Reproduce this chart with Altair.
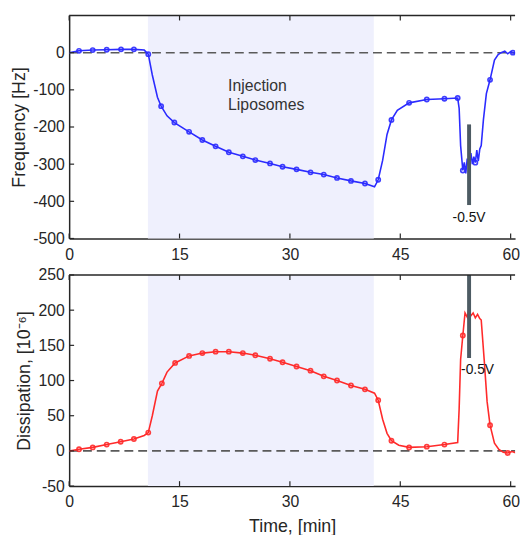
import altair as alt
import pandas as pd

# ---------------- data ----------------
freq_t = [0, 1.34, 3.2, 5.1, 7.05, 8.8, 10.2, 10.75, 11.3, 12.0, 12.5, 13.3, 14.3, 16.3, 18.1,
          19.9, 21.7, 23.6, 25.3, 27.3, 29.0, 30.9, 32.8, 34.6, 36.4, 38.3, 40.2, 41.5, 42.0,
          42.6, 43.2, 43.8, 44.6, 46.2, 48.6, 51.0, 52.8, 53.0, 53.2, 53.5, 53.7, 53.9, 54.1,
          54.3, 54.6, 54.8, 55.0, 55.2, 55.4, 55.6, 55.8, 56.0, 56.3, 56.7, 57.2, 57.8, 58.3,
          58.7, 59.2, 59.6, 60.0, 60.3, 60.8, 61.5]
freq_v = [0, 5, 7, 8, 9, 9, 7, -4, -60, -120, -144, -170, -188, -213, -235,
          -252, -268, -279, -289, -298, -307, -314, -322, -328, -337, -345, -352, -361, -342,
          -290, -220, -181, -155, -135, -126, -124, -122, -150, -250, -317, -295, -325, -285,
          -305, -270, -300, -280, -296, -262, -292, -260, -250, -180, -110, -73, -20, -5,
          0, 4, -3, 3, 0, -2, 2]
freq_mk_t = [1.34, 3.2, 5.1, 7.05, 8.8, 10.75, 12.5, 14.3, 16.3, 18.1, 19.9, 21.7, 23.6, 25.3,
             27.3, 29.0, 30.9, 32.8, 34.6, 36.4, 38.3, 40.2, 42.0, 43.8, 46.2, 48.6, 51.0,
             52.8, 53.5, 55.2, 57.2, 60.3]
freq_mk_v = [5, 7, 8, 9, 9, -4, -144, -188, -213, -235, -252, -268, -279, -289,
             -298, -307, -314, -322, -328, -337, -345, -352, -342, -181, -135, -126, -124,
             -122, -317, -296, -73, 0]

diss_t = [0, 1.34, 3.2, 5.1, 7.0, 8.8, 10.2, 10.75, 11.3, 12.0, 12.6, 13.3, 14.4, 16.3, 18.1,
          19.9, 21.7, 23.6, 25.3, 27.3, 29.0, 30.9, 32.8, 34.6, 36.4, 38.3, 40.2, 41.5, 42.0,
          42.6, 43.2, 43.8, 44.8, 46.2, 48.6, 51.0, 52.8, 53.0, 53.2, 53.5, 53.8, 54.1, 54.3,
          54.6, 54.9, 55.2, 55.5, 55.8, 56.0, 56.4, 56.8, 57.2, 57.8, 58.4, 59.0, 59.6, 60.2,
          60.8, 61.5]
diss_v = [0, 2.4, 5, 9, 13, 17, 22, 26, 50, 85, 96, 112, 125, 135, 139,
          141, 141, 139, 136, 131, 126, 120, 114, 106, 100, 93, 87.5, 82, 72,
          45, 25, 14.5, 8, 5, 6, 9, 12, 60, 130, 164, 196, 190, 200,
          192, 196, 189, 194, 188, 186, 130, 70, 36.5, 11, 2, -2, -3, -1,
          -3, -1]
diss_mk_t = [1.34, 3.2, 5.1, 7.0, 8.8, 10.75, 12.6, 14.4, 16.3, 18.1, 19.9, 21.7, 23.6, 25.3,
             27.3, 29.0, 30.9, 32.8, 34.6, 36.4, 38.3, 40.2, 42.0, 43.8, 46.2, 48.6, 51.0,
             53.5, 57.2, 59.6]
diss_mk_v = [2.4, 5, 9, 13, 17, 26, 96, 125, 135, 139, 141, 141, 139, 136,
             131, 126, 120, 114, 106, 100, 93, 87.5, 72, 14.5, 5, 6, 9,
             164, 36.5, -3]

inj_start, inj_end = 10.7, 41.4
pulse_t = 54.35
freq_pulse = [-193, -410]
diss_pulse = [250, 132]
pulse_label = "-0.5V"
freq_pulse_label = (54.35, -445)
diss_pulse_label = (55.5, 115)
inj_lines = ["Injection", "Liposomes"]
inj_pos = (21.6, [-91, -142])

x_ticks = [0, 15, 30, 45, 60]
freq_ticks = [-500, -400, -300, -200, -100, 0]
diss_ticks = [-50, 0, 50, 100, 150, 200, 250]
x_dom = [0, 60.6]
freq_dom = [-500, 100]
diss_dom = [-50, 250]

W = 452
H1 = 226
H2 = 214
INK = "#262626"
FONT = "Liberation Sans"


def make_axes(yticks, ytitle, bottom):
    xaxis = alt.Axis(values=x_ticks, ticks=False, labelPadding=8, labelFontSize=16,
                     labelColor=INK, labelFont=FONT, domainColor=INK, domainWidth=1.5,
                     grid=False, title="Time, [min]" if bottom else None,
                     titleFontSize=18, titleFont=FONT, titleFontWeight="normal",
                     titleColor=INK, titlePadding=8, labelFlush=False, labelOverlap=False)
    yaxis = alt.Axis(values=yticks, ticks=False, labelPadding=5, labelFontSize=16,
                     labelColor=INK, labelFont=FONT, domainColor=INK, domainWidth=1.5,
                     grid=False, title=ytitle, titleFontSize=18, titleFont=FONT,
                     titleFontWeight="normal", titleColor=INK, titlePadding=4,
                     labelExpr="'' + datum.value", labelFlush=False, labelOverlap=False)
    return xaxis, yaxis


def panel(t, v, mk_t, mk_v, color, ydom, yticks, ytitle, pulse_y, lbl, H, bottom):
    line_df = pd.DataFrame({"t": t, "v": v})
    mk_df = pd.DataFrame({"t": mk_t, "v": mk_v})
    xs = alt.Scale(domain=x_dom, nice=False, zero=False)
    ys = alt.Scale(domain=ydom, nice=False, zero=False)
    xaxis, yaxis = make_axes(yticks, ytitle, bottom)

    def X(f):
        return alt.X(f, scale=xs, axis=xaxis)

    def Y(f):
        return alt.Y(f, scale=ys, axis=yaxis)

    shade = alt.Chart(pd.DataFrame({"a": [inj_start], "b": [inj_end]})).mark_rect(
        color="#eff0fd").encode(
        x=X("a:Q"), x2="b:Q",
        y=alt.value(0), y2=alt.value(H))
    zero = alt.Chart(pd.DataFrame({"z": [0]})).mark_rule(
        color="#5a5a5a", strokeDash=[9, 5], strokeWidth=1.6).encode(
        y=Y("z:Q"), x=alt.value(0), x2=alt.value(W))
    ln = alt.Chart(line_df).mark_line(color=color, strokeWidth=1.6, clip=True).encode(
        x=X("t:Q"), y=Y("v:Q"))
    mk = alt.Chart(mk_df).mark_point(color=color, filled=False, size=18, strokeWidth=1.7,
                                     opacity=0.9, clip=True).encode(
        x=X("t:Q"), y=Y("v:Q"))
    bar = alt.Chart(pd.DataFrame({"t": [pulse_t], "a": [pulse_y[0]], "b": [pulse_y[1]]})).mark_rule(
        color="#4d5b63", strokeWidth=4).encode(
        x=X("t:Q"), y=Y("a:Q"), y2="b:Q")
    bl = alt.Chart(pd.DataFrame({"t": [lbl[0]], "v": [lbl[1]], "s": [pulse_label]})).mark_text(
        fontSize=14, font=FONT, color="#111111", align="center", baseline="middle").encode(
        x=X("t:Q"), y=Y("v:Q"), text="s:N")
    ytk = alt.Chart(pd.DataFrame({"v": yticks})).mark_rule(color=INK, strokeWidth=1.2).encode(
        y=Y("v:Q"), x=alt.value(0), x2=alt.value(5))
    xtk_b = alt.Chart(pd.DataFrame({"t": x_ticks})).mark_rule(color=INK, strokeWidth=1.2).encode(
        x=X("t:Q"), y=alt.value(H), y2=alt.value(H - 5))
    xtk_t = alt.Chart(pd.DataFrame({"t": x_ticks})).mark_rule(color=INK, strokeWidth=1.2).encode(
        x=X("t:Q"), y=alt.value(0), y2=alt.value(5))
    border = alt.Chart(pd.DataFrame({"k": [0]})).mark_rule(color=INK, strokeWidth=1.5).encode(
        x=alt.value(0), x2=alt.value(W), y=alt.value(0))
    layers = [shade, zero, ln, mk, bar, bl, ytk, xtk_b, xtk_t, border]
    if not bottom:
        inj_df = pd.DataFrame({"t": [inj_pos[0]] * 2, "v": inj_pos[1], "s": inj_lines})
        inj = alt.Chart(inj_df).mark_text(fontSize=16, font=FONT, color="#333333", align="left",
                                          baseline="middle").encode(
            x=X("t:Q"), y=Y("v:Q"), text="s:N")
        layers.append(inj)
    return alt.layer(*layers).properties(width=W, height=H)


top = panel(freq_t, freq_v, freq_mk_t, freq_mk_v, "#2b2bff", freq_dom, freq_ticks,
            "Frequency [Hz]", freq_pulse, freq_pulse_label, H1, False)
bot = panel(diss_t, diss_v, diss_mk_t, diss_mk_v, "#ff2a2a", diss_dom, diss_ticks,
            "Dissipation, [10⁻⁶]", diss_pulse, diss_pulse_label, H2, True)

chart = alt.vconcat(top, bot, spacing=5).properties(
    padding={"left": 2, "top": 3, "right": 0, "bottom": 0},
    background="white"
).configure_view(stroke=None)

chart.save("out.html", embed_options={"renderer": "svg", "actions": False})
